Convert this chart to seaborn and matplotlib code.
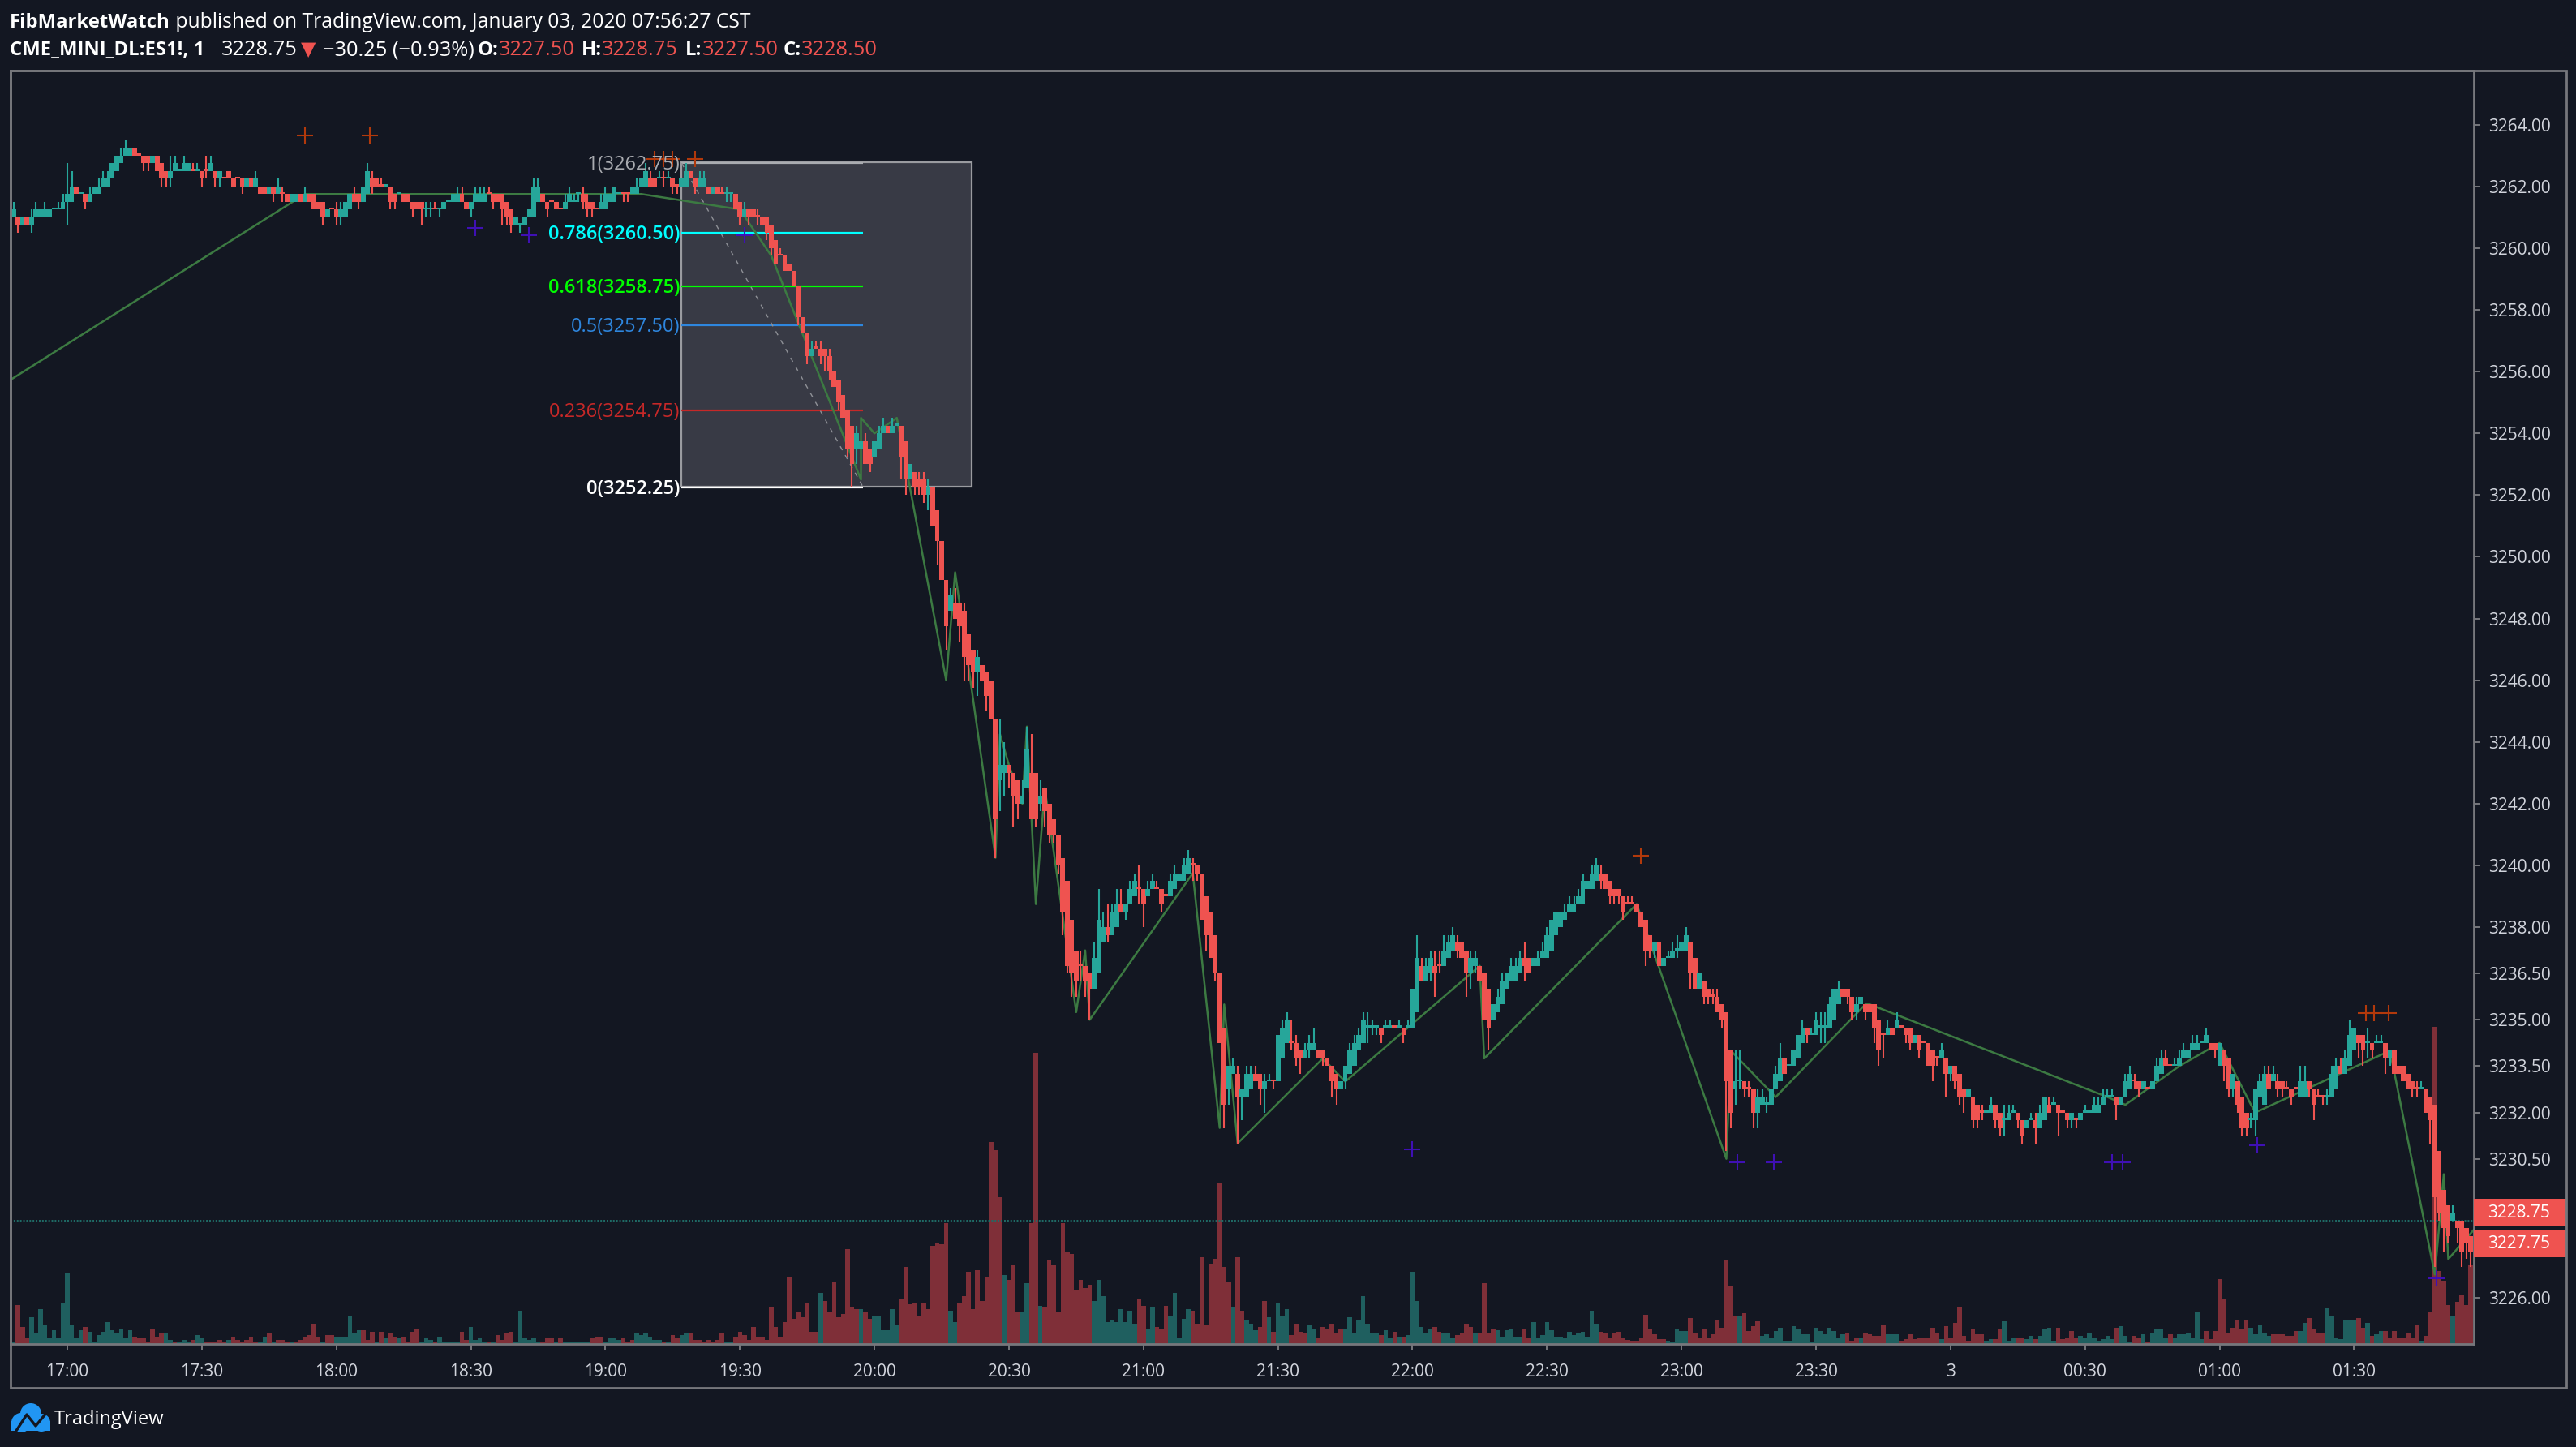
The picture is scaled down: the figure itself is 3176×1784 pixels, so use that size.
import numpy as np
import pandas as pd
import matplotlib
matplotlib.use('Agg')
import matplotlib.pyplot as plt
from matplotlib.patches import Rectangle, Circle
from matplotlib.transforms import blended_transform_factory
import seaborn as sns

# prices are kept in ticks (0.25) above this level, one entry per minute bar
BASE_PRICE = 3226
TICK = 0.25

open_ticks = [
    140,140,139,140,139,140,140,140,140,141, 141,141,142,142,144,143,143,142,143,143,
    144,144,145,146,147,148,148,149,148,148, 148,147,148,147,146,145,146,146,146,146,
    146,146,146,146,146,146,145,145,146,145, 145,145,144,145,144,144,144,143,144,143,
    143,143,142,142,143,142,143,143,142,142, 140,141,141,140,140,141,143,143,142,143,
    145,145,144,144,144,143,143,143,143,142, 142,142,141,141,141,141,141,142,142,142,
    143,142,141,142,142,142,143,143,143,143, 142,141,139,139,139,140,140,142,143,142,
    142,142,141,141,142,142,143,143,142,142, 141,141,141,142,142,143,143,143,143,143,
    144,144,145,145,145,145,145,145,144,144, 144,146,145,144,144,144,143,144,143,143,
    143,143,142,140,141,141,140,140,140,139, 137,135,135,134,133,131,127,125,122,123,
    123,123,122,120,119,117,115,113,110,110, 111,110,109,110,112,113,112,113,113,111,
    106,107,106,106,104,105,102,98,93,89, 90,90,89,86,84,81,82,81,80,75,
    67,68,69,68,67,64,66,68,68,64, 66,64,62,60,57,54,49,45,43,43,
    42,40,42,46,48,47,48,51,50,51, 52,53,53,52,53,53,53,52,52,53,
    54,54,55,56,56,55,52,50,47,42, 35,27,29,29,26,26,27,29,29,27,
    28,28,28,31,33,33,33,32,31,32, 32,32,32,31,30,29,27,28,29,30,
    32,33,35,35,35,35,35,35,35,35, 35,35,35,37,43,41,42,43,43,43,
    44,45,46,46,45,42,43,43,42,40, 36,37,38,40,41,41,42,44,44,43,
    43,44,44,45,47,48,49,50,50,51, 51,53,53,54,55,55,54,53,53,52,
    51,51,51,50,49,47,45,46,43,44, 44,45,45,45,46,44,40,41,40,39,
    39,38,37,32,27,28,28,27,27,24, 25,25,25,27,28,31,30,30,31,33,
    35,34,34,35,35,35,36,38,40,40, 39,37,38,38,38,38,36,34,34,35,
    35,35,35,35,33,34,33,33,32,31, 31,31,29,30,29,27,26,26,25,24,
    24,24,25,24,23,23,24,24,23,22, 23,23,22,23,25,25,25,24,24,23,
    23,23,24,24,24,24,25,26,26,26, 25,26,27,28,28,27,27,27,28,29,
    31,30,30,30,31,31,32,32,33,33, 33,33,30,32,31,27,28,26,24,23,
    23,26,25,29,28,28,28,27,27,27, 26,26,28,27,26,26,26,26,27,30,
    29,30,32,34,34,33,33,33,33,33, 31,32,30,30,29,28,27,27,27,26,
    25,19,14,12,10,10,10,9,8,
]
close_ticks = [
    141,139,140,139,140,141,141,141,141,141, 141,142,143,144,143,143,142,143,144,144,
    145,145,147,148,148,149,149,148,148,147, 147,148,146,145,145,146,147,146,147,147,
    146,146,145,146,147,145,146,145,145,144, 145,144,145,144,145,143,143,144,143,144,
    143,142,143,143,142,143,142,141,141,140, 141,141,140,141,142,143,142,142,144,146,
    144,144,144,144,142,142,143,142,142,141, 141,141,141,141,141,141,142,142,143,143,
    142,141,142,143,143,143,143,142,142,141, 140,139,140,139,140,141,144,144,142,141,
    142,141,141,142,143,142,143,142,141,141, 141,142,143,143,144,143,143,143,144,144,
    145,146,144,144,145,145,145,144,144,145, 146,145,144,145,145,143,144,143,143,143,
    143,141,140,141,140,140,140,139,138,136, 134,135,133,133,131,127,125,122,123,123,
    122,122,120,118,116,114,110,108,112,111, 108,108,111,112,113,112,113,113,109,106,
    108,105,105,104,105,100,98,93,87,91, 88,87,83,82,81,83,80,78,75,62,
    69,69,68,65,64,65,71,62,62,65, 63,60,60,56,50,43,42,41,43,41,
    40,44,49,48,47,50,51,50,51,53, 54,53,51,53,54,53,51,52,54,55,
    55,56,57,56,55,49,47,44,42,33, 25,30,30,26,27,29,29,28,27,28,
    28,28,34,35,36,33,31,31,32,33, 33,31,31,30,28,27,28,30,32,33,
    34,36,35,35,35,34,35,35,35,35, 34,35,40,44,41,43,44,42,43,45,
    46,47,45,44,42,44,44,41,36,35, 38,39,41,42,43,43,44,43,42,44,
    44,45,47,49,50,50,50,51,51,52, 54,54,55,56,54,53,52,52,52,50,
    51,51,50,48,45,45,46,43,44,44, 45,45,46,47,42,40,42,39,39,39,
    37,36,28,24,28,28,27,27,24,26, 26,25,27,29,31,29,30,32,34,35,
    34,34,36,35,35,38,40,40,39,39, 37,38,39,37,37,35,32,34,35,34,
    36,35,34,33,34,32,33,30,30,31, 32,29,30,28,26,26,27,23,23,24,
    24,25,23,22,23,24,24,23,21,23, 23,22,24,26,24,25,24,24,23,24,
    23,24,24,24,25,25,26,26,26,25, 26,28,29,28,27,28,27,28,30,31,
    30,30,30,31,32,32,33,33,33,34, 32,32,33,30,27,29,25,22,22,23,
    27,28,29,27,29,27,27,27,26,27, 28,28,27,25,26,26,26,29,30,29,
    31,34,35,33,32,33,32,33,33,31, 32,29,29,28,27,27,27,27,24,23,
    13,11,9,8,11,9,6,7,6,
]
upper_wick = [
    1,0,0,0,1,1,0,1,0,0, 1,1,4,2,0,0,0,1,0,1, 1,1,0,0,1,1,0,0,0,0, 0,0,0,0,0,2,1,0,1,0,
    1,1,0,2,1,0,0,0,0,0, 0,0,0,0,1,0,0,0,0,1, 1,0,0,0,0,1,0,0,0,0, 0,0,1,1,0,0,1,0,0,1,
    1,0,1,0,0,0,0,0,0,0, 0,0,1,1,1,0,0,0,0,1, 1,0,0,1,1,1,1,0,0,0, 0,0,0,0,0,0,1,1,0,0,
    0,0,0,1,1,1,0,1,1,0, 0,1,1,0,0,0,0,0,0,1, 0,1,1,0,1,1,1,0,0,0, 1,0,0,1,1,0,0,0,1,1,
    0,0,0,1,0,0,1,0,0,0, 0,1,0,0,0,0,0,0,1,1, 1,0,1,0,0,0,0,0,1,0, 1,0,0,1,1,0,1,0,0,0,
    0,0,1,1,1,0,0,0,0,1, 2,0,1,0,0,1,0,0,0,0, 6,3,0,0,0,2,3,5,0,2, 0,0,0,0,0,0,0,0,2,0,
    0,2,4,2,3,1,2,2,0,1, 1,3,0,1,1,1,0,0,1,1, 0,1,1,1,0,0,0,0,0,0, 0,0,1,1,0,1,1,1,0,1,
    1,0,0,1,1,3,1,0,1,1, 2,0,0,0,0,0,0,0,1,1, 1,1,2,1,0,0,1,1,0,1, 0,1,0,3,1,1,1,2,2,2,
    1,1,1,0,0,1,1,0,0,0, 0,1,1,0,1,1,1,2,0,0, 1,1,1,0,0,0,1,1,1,1, 1,0,1,1,1,0,0,0,0,0,
    1,1,0,0,0,0,0,0,0,1, 1,2,0,1,0,0,0,0,0,1, 1,0,0,0,4,4,0,1,0,1, 1,1,0,1,2,0,0,0,0,1,
    0,1,1,2,2,1,0,1,0,0, 0,1,0,0,0,0,0,0,1,0, 1,0,0,0,0,0,0,0,0,0, 1,0,0,0,0,0,0,0,0,1,
    0,1,0,0,2,1,1,0,0,0, 1,1,1,0,1,1,0,0,0,0, 0,0,1,0,1,1,1,1,1,0, 0,1,1,1,0,0,0,0,1,1,
    1,0,1,1,1,0,1,1,0,1, 0,0,0,0,0,0,0,0,0,1, 0,1,1,1,1,1,0,1,0,0, 2,2,0,0,1,0,1,1,1,1,
    1,2,0,0,0,2,0,1,1,0, 0,0,0,0,0,0,1,1,0,0, 0,0,0,0,1,0,0,0,0,
]
lower_wick = [
    0,1,0,0,1,0,0,0,0,0, 0,0,3,0,0,0,1,0,0,0, 0,0,0,0,0,0,0,0,0,1, 1,0,0,1,1,1,0,0,0,0,
    0,0,1,1,0,1,1,0,0,0, 0,1,0,0,0,0,0,0,1,0, 1,0,0,0,0,0,0,0,0,1, 0,0,1,1,0,0,0,1,0,0,
    1,0,0,0,1,1,0,0,0,1, 0,2,1,1,0,1,0,0,0,0, 0,0,1,0,0,0,0,1,0,2, 1,1,0,1,0,0,0,0,0,1,
    0,0,0,0,0,0,1,1,1,1, 0,0,0,0,0,0,1,1,0,0, 0,0,0,0,0,1,0,1,1,0, 0,0,1,0,0,0,0,0,0,1,
    1,0,1,0,1,0,1,0,1,1, 0,0,0,0,0,1,0,1,0,0, 1,2,1,0,1,0,1,3,2,0, 0,1,0,0,0,0,0,0,3,2,
    0,1,1,1,2,0,3,0,3,0, 0,2,3,2,2,3,0,2,0,5, 4,3,2,4,2,0,0,0,1,1, 2,1,1,1,3,1,3,2,2,2,
    4,0,0,0,1,0,0,0,1,0, 0,2,3,0,0,0,1,0,0,0, 0,0,0,2,1,0,2,0,1,0, 3,2,0,6,3,0,0,0,2,3,
    0,1,0,0,0,1,1,2,0,1, 0,0,1,0,2,2,0,1,0,0, 0,0,2,1,1,1,0,0,0,0, 1,0,0,0,0,0,1,3,1,0,
    0,0,1,0,3,2,1,0,0,3, 0,0,0,0,0,0,0,2,0,0, 0,0,0,0,0,0,0,0,0,0, 0,0,0,0,1,0,1,1,1,1,
    0,0,0,0,2,1,1,0,0,0, 0,1,0,0,2,0,0,1,1,1, 0,1,9,2,2,1,1,1,2,2, 0,1,0,0,0,0,0,0,0,0,
    1,0,0,2,2,0,0,0,0,1, 1,1,0,1,0,2,2,3,0,0, 0,0,1,1,0,1,0,0,2,1, 0,3,1,1,1,2,0,1,1,1,
    0,0,1,1,2,0,0,1,1,0, 0,2,0,0,0,0,3,0,1,1, 1,0,0,0,0,0,0,0,0,2, 0,0,0,1,1,0,0,0,0,0,
    0,0,0,0,0,0,0,0,0,0, 0,1,0,2,1,1,1,1,1,1, 2,0,0,0,0,1,1,0,1,0, 0,0,1,2,0,1,1,0,0,0,
    0,0,0,2,2,2,1,0,0,2, 1,0,0,0,0,1,1,0,0,3, 9,1,3,1,0,2,2,2,2,
]
# negative = down bar
volume = [
    3,-48,-21,-8,33,13,43,24,8,17, 8,51,87,24,7,17,-21,15,3,11, 15,27,17,13,19,7,17,-9,-7,-7,
    -3,-19,-9,-13,13,5,-3,3,5,2, -5,11,7,-3,-3,-3,-5,-3,5,-9, -5,-3,-5,-9,-3,2,9,-13,3,-5,
    -5,-3,3,-3,-5,-9,-11,-25,-9,2, -11,-11,9,9,9,35,13,17,-17,-5, -15,3,-15,7,-13,-9,7,-9,-3,-15,
    -19,3,7,5,-3,9,3,3,3,3, -15,-5,21,5,7,3,-3,2,-11,-5, -13,-15,2,41,7,5,7,3,-3,-7,
    -7,3,-7,2,3,3,3,3,3,-7, -9,-9,2,7,7,5,-7,-3,-5,13, 11,13,9,5,5,-3,3,-11,-7,11,
    13,-13,-5,-5,-3,-5,-3,-5,-13,2, 2,-9,-15,-11,-5,-21,-9,-9,-5,-45, -21,-9,-27,-83,-31,-39,-33,-51,-15,-15,
    63,-53,-39,-77,-33,-37,-117,-45,-43,43, -39,-31,35,35,17,17,43,23,-55,-95,
    -49,-51,-35,-51,-43,-121,-125,-123,-149,41, 27,-51,-59,-89,-43,-91,-53,-83,-249,-239,
    -181,85,-79,-97,-39,39,75,-149,-359,47, -45,-103,-97,-39,-149,-113,-111,-67,-79,-69,
    -73,53,79,59,27,29,27,43,27,41, 25,-55,-47,19,45,-21,-19,-47,35,63,
    7,31,43,-41,-25,-107,-23,-99,-105,-199, -95,-77,45,-107,-41,29,25,17,-21,-53,
    33,-15,51,35,43,-11,-25,-15,-13,23, 19,-7,-21,-19,-25,-13,-19,19,33,13,
    29,59,25,13,13,-11,17,7,-15,9, -9,11,89,53,21,13,19,-21,-15,13,
    13,7,-11,-13,-25,-21,13,-13,-75,-13, -19,17,9,17,19,9,9,-19,-7,27,
    7,11,27,17,9,9,7,15,11,13, 15,9,41,25,-15,-13,-7,-13,-15,-7,
    -5,-4,-4,-8,-36,-18,-12,-6,-6,4, 2,18,16,16,-32,-14,-8,-18,-8,-12,
    -30,-20,-104,-72,-34,34,-38,-16,-22,-28, 10,12,8,16,20,4,4,22,18,12,
    12,3,20,16,12,20,16,8,12,-14, -4,-8,8,-14,-12,-10,-10,-24,12,12,
    12,-4,-6,-12,-6,-8,-8,-8,-20,-14, 6,-22,-8,-26,-46,-10,-4,-18,-12,-12,
    4,6,-6,-18,28,4,8,-8,-8,6, 10,-6,10,18,20,4,-20,-6,-8,-16,
    -8,10,8,14,8,4,6,10,6,-20, 22,10,2,-10,-8,12,-2,14,18,18,
    8,-12,8,12,12,14,8,40,6,-16, -6,-16,-80,-56,-14,-20,-30,-18,-30,20,
    12,24,14,10,-12,-12,-12,-10,-10,-16, 16,26,-32,-18,-14,-14,44,34,8,6,
    30,30,30,-32,-20,26,-10,12,16,-16, -8,-16,-8,-8,-14,-8,-24,4,-10,-40,
    -391,-90,-78,-48,34,-52,-60,-48,-98,
]

# zigzag overlay, (bar, ticks)
zigzag_bar = [0.5, 66, 141, 163, 170, 190, 190, 193, 198, 209, 211, 220, 221, 223, 226, 227, 229, 231, 238, 240, 241,
              264, 270, 271, 274, 293, 298, 328, 329, 363, 383, 384, 394, 414, 415, 468, 472, 484, 493,
              500, 501, 531, 541, 543, 544, 550]
zigzag_val = [119, 143, 143, 141, 135, 106, 114, 112, 114, 80, 94, 57, 73, 69, 64, 74, 51, 66, 37, 45, 36,
              55, 22, 38, 20, 31, 28, 43, 31, 51, 18, 32, 26, 38, 38, 26, 25, 30, 33,
              25, 24, 32, 3, 16, 5, 9]

high_mark_bar = [66, 80.5, 144, 146, 148, 153, 364, 525.6, 527.4, 530.7]
high_mark_val = [150.6, 150.6, 147.5, 147.5, 147.5, 147.5, 57.3, 36.9, 36.9, 36.9]
low_mark_bar = [104, 116, 164, 313, 385.5, 393.5, 469, 471.4, 501.4, 541.4]
low_mark_val = [138.6, 137.7, 137.7, 19.2, 17.5, 17.5, 17.5, 17.5, 19.7, 2.5]

fib_prices = [3262.75, 3260.50, 3258.75, 3257.50, 3254.75, 3252.25]
fib_labels = ['1(3262.75)', '0.786(3260.50)', '0.618(3258.75)', '0.5(3257.50)', '0.236(3254.75)', '0(3252.25)']
fib_colors = ['#a9abb0', '#00ffff', '#00ff00', '#2e86de', '#c62828', '#ffffff']
fib_weights = ['normal', 'semibold', 'semibold', 'normal', 'normal', 'semibold']

price_ticks = [3264, 3262, 3260, 3258, 3256, 3254, 3252, 3250, 3248, 3246, 3244, 3242, 3240, 3238,
               3236.5, 3235, 3233.5, 3232, 3230.5, 3226]
tag_prices = [3228.75, 3227.75]
time_labels = ['17:00', '17:30', '18:00', '18:30', '19:00', '19:30', '20:00', '20:30', '21:00', '21:30',
               '22:00', '22:30', '23:00', '23:30', '3', '00:30', '01:00', '01:30']

BG = '#131722'
GREEN = '#26a69a'
RED = '#ef5350'
VOL_GREEN = '#1f5f5f'
VOL_RED = '#7f2f38'
FRAME = '#76777c'
TEXT = '#d1d4dc'

sns.set_theme(style='dark', rc={'axes.facecolor': BG, 'figure.facecolor': BG, 'axes.grid': False})
plt.rcParams['font.family'] = ['Open Sans', 'DejaVu Sans']

W, H = 3176, 1784
fig = plt.figure(figsize=(W / 100, H / 100), dpi=100)
L, R, T, B = 13, 3050, 87, 1657
pos = [L / W, 1 - B / H, (R - L) / W, (B - T) / H]

n = min(len(open_ticks), len(close_ticks), len(upper_wick), len(lower_wick), len(volume))
bars = np.arange(1, n + 1)
o = BASE_PRICE + np.array(open_ticks[:n]) * TICK
c = BASE_PRICE + np.array(close_ticks[:n]) * TICK
hi = np.maximum(o, c) + np.array(upper_wick[:n]) * TICK
lo = np.minimum(o, c) - np.array(lower_wick[:n]) * TICK
vol = np.array(volume[:n])
is_up = (c > o) | ((c == o) & (vol > 0))
candle_colors = np.where(is_up, GREEN, RED)

XLIM = (0.33, 549.7)
YLIM = (3224.5, 3265.75)

# volume sits behind the price panel
ax_vol = fig.add_axes(pos, zorder=1)
ax_vol.set_facecolor(BG)
df_vol = pd.DataFrame({'bar': bars, 'vol': np.abs(vol), 'dir': np.where(vol > 0, 'up', 'down')})
sns.barplot(data=df_vol, x='bar', y='vol', hue='dir', palette={'up': VOL_GREEN, 'down': VOL_RED},
            native_scale=True, dodge=False, width=1, saturation=1, linewidth=0, legend=False, ax=ax_vol)
ax_vol.set_xlim(*XLIM)
ax_vol.set_ylim(0, B - T)
ax_vol.axis('off')

ax = fig.add_axes(pos, zorder=2)
ax.patch.set_visible(False)

# fib box
ax.add_patch(Rectangle((150.0, fib_prices[5] + 0.03), 214.6 - 150.0, fib_prices[0] - fib_prices[5],
                       facecolor='#383a45', edgecolor='#9a9ba0', linewidth=1.6, zorder=1))
for price, label, color, weight in zip(fib_prices, fib_labels, fib_colors, fib_weights):
    ax.plot([150.0, 190.5], [price, price], color=color, lw=1.6, zorder=1.5, solid_capstyle='butt')
    ax.text(149.6, price - 0.05, label, color=color, fontsize=17, fontweight=weight, ha='right', va='center', zorder=6)
ax.plot([150.0, 190.5], [fib_prices[0], fib_prices[5]], color='#8f9197', lw=1, ls=(0, (4, 5)), zorder=1.6)

ax.axhline(3228.5, color='#1f6d67', lw=1.4, ls=(0, (1, 1)), zorder=1.7)

sns.lineplot(x=zigzag_bar, y=BASE_PRICE + np.array(zigzag_val) * TICK, sort=False, estimator=None,
             color='#3c7a42', lw=1.8, ax=ax, zorder=2.5)

ax.vlines(bars, lo, hi, colors=candle_colors, lw=1.5, zorder=3)
body = np.abs(c - o)
body[body == 0] = 0.07
ax.bar(bars, body, bottom=np.minimum(o, c), width=1.06, color=candle_colors, linewidth=0, zorder=3.1)

sns.scatterplot(x=high_mark_bar, y=BASE_PRICE + np.array(high_mark_val) * TICK, marker='+', s=220,
                color='#b2390b', linewidth=1.5, ax=ax, zorder=5)
sns.scatterplot(x=low_mark_bar, y=BASE_PRICE + np.array(low_mark_val) * TICK, marker='+', s=220,
                color='#3f10b5', linewidth=1.5, ax=ax, zorder=5)

ax.set_xlim(*XLIM)
ax.set_ylim(*YLIM)
ax.set_xlabel('')
ax.set_ylabel('')
ax.yaxis.tick_right()
ax.set_yticks(price_ticks)
ax.set_yticklabels([f'{p:.2f}' for p in price_ticks])
ax.set_xticks(13 + 30 * np.arange(len(time_labels)))
ax.set_xticklabels(time_labels)
ax.tick_params(axis='y', length=6, width=1.4, color=FRAME, labelcolor=TEXT, labelsize=15, pad=7, right=True)
ax.tick_params(axis='x', length=5, width=1.4, color=FRAME, labelcolor=TEXT, labelsize=15, pad=12, bottom=True)
for s in ax.spines.values():
    s.set_color(FRAME)
    s.set_linewidth(2)
    s.set_visible(True)

# last price tags on the scale
tr = blended_transform_factory(ax.transAxes, ax.transData)
for p in tag_prices:
    ax.add_patch(Rectangle((1.0, p - 0.45), 114 / (R - L), 0.9, transform=tr, facecolor=RED,
                           edgecolor='none', clip_on=False, zorder=7))
    ax.text(1 + 17 / (R - L), p, f'{p:.2f}', transform=tr, color='white', fontsize=15, va='center', zorder=8)

# overlay in pixel coordinates for frame, header and logo
over = fig.add_axes([0, 0, 1, 1], zorder=3)
over.set_xlim(0, W)
over.set_ylim(H, 0)
over.axis('off')
over.add_patch(Rectangle((L, T), 3164 - L, 1711 - T, fill=False, edgecolor=FRAME, linewidth=2))

renderer = fig.canvas.get_renderer()

def put_text(x, y, parts):
    for txt, color, weight, size in parts:
        t = over.text(x, y, txt, color=color, fontsize=size, fontweight=weight, va='center', ha='left')
        x = over.transData.inverted().transform(t.get_window_extent(renderer).corners()[2])[0]

put_text(12, 28, [('FibMarketWatch', 'white', 'bold', 17.2),
                  (' published on TradingView.com, January 03, 2020 07:56:27 CST', 'white', 'normal', 17.7)])
put_text(12, 62, [('CME_MINI_DL:ES1!, 1', 'white', 'bold', 17.2)])
put_text(273, 62, [('3228.75', 'white', 'normal', 18.3)])
put_text(371, 62, [('▼', RED, 'normal', 17.2)])
put_text(398, 62, [('−30.25 (−0.93%)', 'white', 'normal', 18.3)])
for x0, head, val in [(589, 'O:', '3227.50'), (717, 'H:', '3228.75'), (845, 'L:', '3227.50'), (966, 'C:', '3228.50')]:
    put_text(x0, 62, [(head, 'white', 'bold', 17.2), (val, RED, 'normal', 18.3)])

# TradingView cloud
LOGO = '#2196f3'
for cx, cy, r in [(26, 1754, 12), (38, 1743, 13), (51, 1754, 11)]:
    over.add_patch(Circle((cx, cy), r, facecolor=LOGO, edgecolor='none'))
over.add_patch(Rectangle((14, 1752), 48, 12, facecolor=LOGO, edgecolor='none'))
over.plot([20, 33, 44, 58], [1764, 1744, 1758, 1741], color=BG, lw=2.4)
over.text(67, 1750, 'TradingView', color='white', fontsize=17, va='center')

fig.savefig('out.png', dpi=100, facecolor=BG)
